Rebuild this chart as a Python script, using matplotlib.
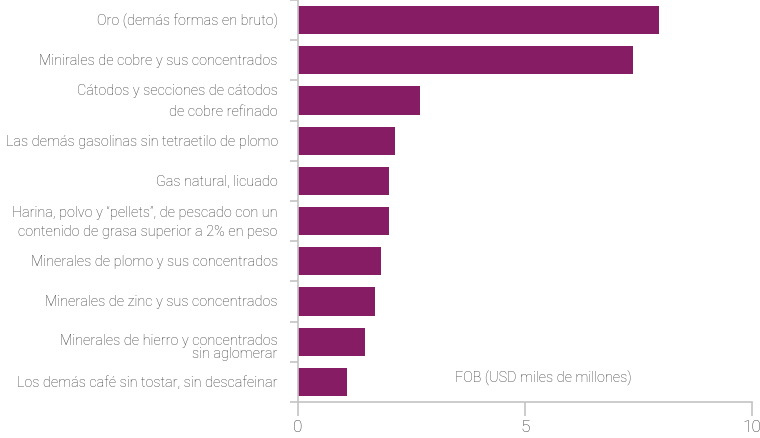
import matplotlib
matplotlib.use("Agg")
import matplotlib.pyplot as plt
from matplotlib.transforms import ScaledTranslation
import numpy as np

plt.rcParams['font.family'] = ['Roboto', 'DejaVu Sans']

productos = [
    "Oro (demás formas en bruto)",
    "Minirales de cobre y sus concentrados",
    "Cátodos y secciones de cátodos\nde cobre refinado",
    "Las demás gasolinas sin tetraetilo de plomo",
    "Gas natural, licuado",
    "Harina, polvo y “pellets”, de pescado con un\ncontenido de grasa superior a 2% en peso",
    "Minerales de plomo y sus concentrados",
    "Minerales de zinc y sus concentrados",
    "Minerales de hierro y concentrados\nsin aglomerar",
    "Los demás café sin tostar, sin descafeinar",
]
fob = [7.95, 7.38, 2.69, 2.14, 2.0, 2.0, 1.83, 1.69, 1.47, 1.07]
xticks = [0, 5, 10]

color_bar = "#861d64"
gris = "#c4c4c4"
texto = "#333333"

fig = plt.figure(figsize=(7.6, 4.39), dpi=100)
ax = fig.add_axes([298 / 760, 1 - 403 / 439, 454 / 760, 402 / 439])

y = np.arange(len(productos))
ax.barh(y, fob, height=0.7, color=color_bar)
ax.set_ylim(len(productos) - 0.5, -0.5)
ax.set_xlim(0, 10)

# ticks en los limites de categoria
ax.set_yticks(np.arange(len(productos) + 1) - 0.5)
ax.set_yticklabels([])
ax.tick_params(axis='y', length=6, color=gris, width=1.2)
ax.set_yticks(y, minor=True)
ax.set_yticklabels(productos, minor=True, fontsize=10.4, color=texto,
                   fontweight='light')
ax.tick_params(axis='y', which='minor', length=0, pad=14.5)
for t in ax.get_yticklabels(minor=True):
    t.set_linespacing(1.6)
    t.set_va('center')
ax.get_yticklabels(minor=True)[5].set_linespacing(1.45)
# esta etiqueta va mas junta y algo mas abajo
hierro = ax.get_yticklabels(minor=True)[8]
hierro.set_linespacing(0.95)
hierro.set_transform(hierro.get_transform() +
                     ScaledTranslation(0, -5 / 100, fig.dpi_scale_trans))

ax.set_xticks(xticks)
ax.set_xticklabels([str(v) for v in xticks], fontsize=12.5, color=texto,
                   fontweight='light')
ax.tick_params(axis='x', length=10, color=gris, width=1.2, pad=2)

for s in ['top', 'right']:
    ax.spines[s].set_visible(False)
for s in ['left', 'bottom']:
    ax.spines[s].set_color(gris)
    ax.spines[s].set_linewidth(1.2)

ax.text(0.54, 0.06, "FOB (USD miles de millones)", transform=ax.transAxes,
        ha='center', va='center', fontsize=10.4, color=texto,
        fontweight='light')

fig.savefig("out.png", dpi=100)
